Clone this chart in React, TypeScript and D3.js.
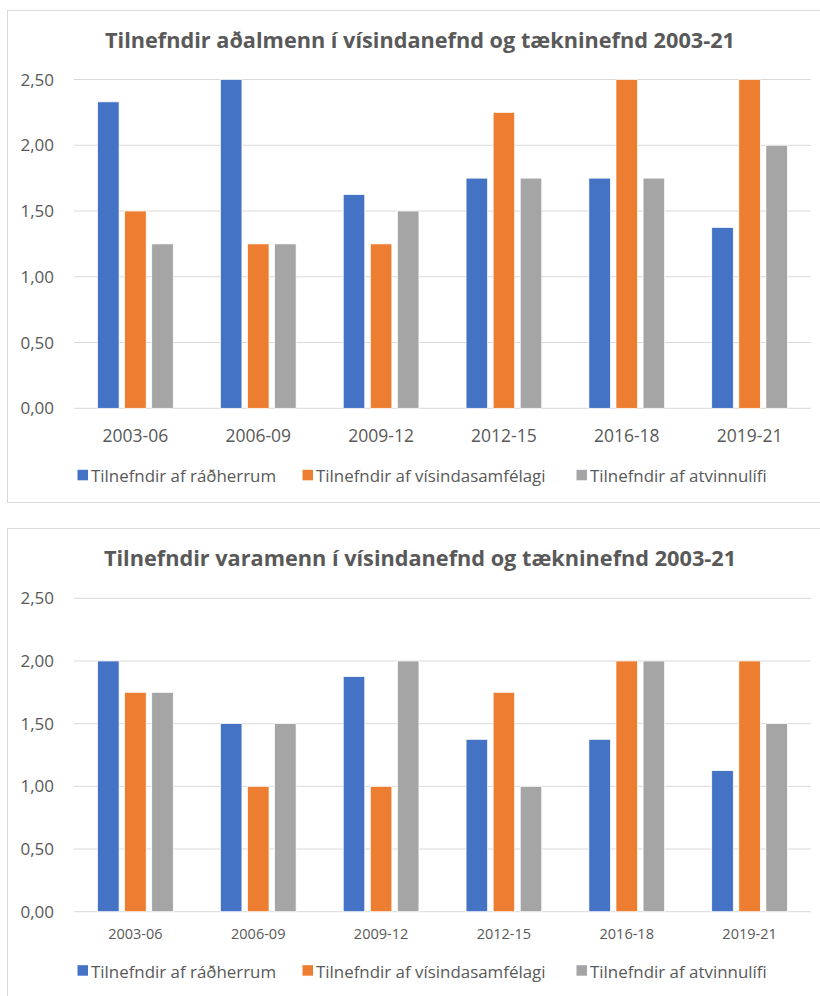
import React from "react";
import * as d3 from "d3";

const categories = ["2003-06", "2006-09", "2009-12", "2012-15", "2016-18", "2019-21"];
const seriesNames = [
  "Tilnefndir af ráðherrum",
  "Tilnefndir af vísindasamfélagi",
  "Tilnefndir af atvinnulífi",
];
const seriesColors = ["#4472C4", "#ED7D31", "#A5A5A5"];
const yTicks = [0, 0.5, 1, 1.5, 2, 2.5];

// Chart 1: aðalmenn
const title1 = "Tilnefndir aðalmenn í vísindanefnd og tækninefnd 2003-21";
const adal_radherrar = [2.33, 2.5, 1.625, 1.75, 1.75, 1.375];
const adal_visindi = [1.5, 1.25, 1.25, 2.25, 2.5, 2.5];
const adal_atvinnulif = [1.25, 1.25, 1.5, 1.75, 1.75, 2.0];

// Chart 2: varamenn
const title2 = "Tilnefndir varamenn í vísindanefnd og tækninefnd 2003-21";
const vara_radherrar = [2.0, 1.5, 1.875, 1.375, 1.375, 1.125];
const vara_visindi = [1.75, 1.0, 1.0, 1.75, 2.0, 2.0];
const vara_atvinnulif = [1.75, 1.5, 2.0, 1.0, 2.0, 1.5];

const FONT = "'Open Sans', 'Noto Sans', sans-serif";
const TEXT = "#595959";
const GRID = "#D9D9D9";

const fmt = (v: number) => v.toFixed(2).replace(".", ",");

type ChartProps = {
  title: string;
  series: number[][];
  boxTop: number;
  boxBottom: number;
  yTop: number;
  yZero: number;
  xLabelBaseline: number;
  xLabelSize: number;
  legendBaseline: number;
};

function Chart({ title, series, boxTop, boxBottom, yTop, yZero, xLabelBaseline, xLabelSize, legendBaseline }: ChartProps) {
  const plotLeft = 74;
  const plotRight = 811;
  const y = d3.scaleLinear().domain([0, 2.5]).range([yZero, yTop]);
  const x0 = d3.scaleBand<string>().domain(categories).range([plotLeft, plotRight]).paddingInner(0).paddingOuter(0);
  const x1 = d3
    .scaleBand<number>()
    .domain(d3.range(series.length))
    .range([0, x0.bandwidth()])
    .paddingInner(0.205)
    .paddingOuter(0.87);

  const legendSquareX = [77.5, 302.5, 576.5];
  const sq = 10.5;

  return (
    <g>
      <rect x={7.5} y={boxTop + 0.5} width={840} height={boxBottom - boxTop} fill="#fff" stroke={GRID} strokeWidth={1} />
      <text x={420} y={boxTop + 37.5} textAnchor="middle" fontFamily={FONT} fontWeight={700} fontSize={21.7} fill={TEXT}>
        {title}
      </text>
      {yTicks.map((t) => (
        <g key={t}>
          <line x1={plotLeft} x2={plotRight} y1={y(t)} y2={y(t)} stroke={GRID} strokeWidth={1} />
          <text x={54} y={y(t) + 6} textAnchor="end" fontFamily={FONT} fontSize={17} fill={TEXT}>
            {fmt(t)}
          </text>
        </g>
      ))}
      {categories.map((c, ci) => (
        <g key={c}>
          {series.map((s, si) => (
            <rect
              key={si}
              x={(x0(c) as number) + (x1(si) as number)}
              y={y(s[ci])}
              width={x1.bandwidth()}
              height={y(0) - y(s[ci])}
              fill={seriesColors[si]}
              stroke="#fff"
              strokeWidth={0.7}
            />
          ))}
          <text
            x={(x0(c) as number) + x0.bandwidth() / 2}
            y={xLabelBaseline}
            textAnchor="middle"
            fontFamily={FONT}
            fontSize={xLabelSize}
            fill={TEXT}
          >
            {c}
          </text>
        </g>
      ))}
      {seriesNames.map((n, i) => (
        <g key={n}>
          <rect x={legendSquareX[i]} y={legendBaseline - 2 - sq} width={sq} height={sq} fill={seriesColors[i]} />
          <text x={legendSquareX[i] + 13.5} y={legendBaseline} fontFamily={FONT} fontSize={16.9} fill={TEXT}>
            {n}
          </text>
        </g>
      ))}
    </g>
  );
}

export default function App() {
  return (
    <svg
      width={820}
      height={996}
      style={{ position: "absolute", left: 0, top: 0, background: "#fff" }}
      xmlns="http://www.w3.org/2000/svg"
    >
      <rect x={0} y={0} width={820} height={996} fill="#fff" />
      <Chart
        title={title1}
        series={[adal_radherrar, adal_visindi, adal_atvinnulif]}
        boxTop={10}
        boxBottom={502}
        yTop={79.5}
        yZero={408.3}
        xLabelBaseline={441.7}
        xLabelSize={17.5}
        legendBaseline={482.3}
      />
      <Chart
        title={title2}
        series={[vara_radherrar, vara_visindi, vara_atvinnulif]}
        boxTop={528}
        boxBottom={1010}
        yTop={598.3}
        yZero={911.7}
        xLabelBaseline={939}
        xLabelSize={14.5}
        legendBaseline={977.7}
      />
    </svg>
  );
}
